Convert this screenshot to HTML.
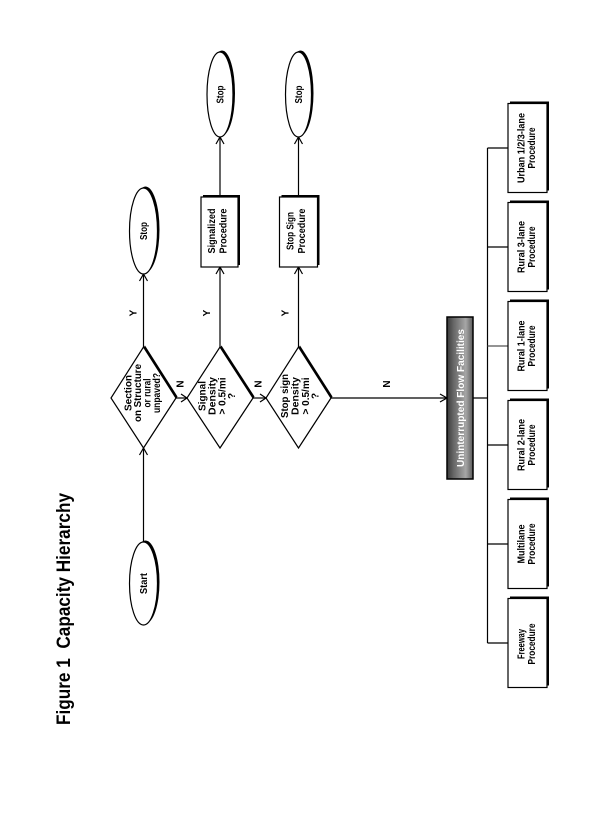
<!DOCTYPE html>
<html><head><meta charset="utf-8">
<style>
html,body{margin:0;padding:0;background:#fff;}
svg{display:block;}
text{font-family:"Liberation Sans",sans-serif;font-weight:bold;fill:#000;}
</style></head><body>
<svg width="612" height="817" viewBox="0 0 612 817" xmlns="http://www.w3.org/2000/svg">
<defs>
<linearGradient id="g" x1="0" x2="1" y1="0" y2="0">
<stop offset="0" stop-color="#3a3a3a"/>
<stop offset="0.25" stop-color="#666"/>
<stop offset="0.72" stop-color="#a6a6a6"/>
<stop offset="1" stop-color="#5a5a5a"/>
</linearGradient>
</defs>

<!-- Title -->
<text transform="translate(70,609) rotate(-90)" text-anchor="middle" font-size="19" textLength="232" lengthAdjust="spacingAndGlyphs">Figure 1&#160; Capacity Hierarchy</text>

<g stroke="#000" stroke-width="1.2" fill="none">
  <!-- Start -> D1 -->
  <line x1="143.5" y1="542" x2="143.5" y2="448"/>
  <polyline points="139.5,455 143.5,448 147.5,455"/>
  <!-- D1 -> Stop1 -->
  <line x1="143.5" y1="347" x2="143.5" y2="274"/>
  <polyline points="139.5,281 143.5,274 147.5,281"/>
  <!-- D1 -> D2 -->
  <line x1="176" y1="398" x2="187" y2="398"/>
  <polyline points="181,394 187,398 181,402"/>
  <!-- D2 -> Signalized -->
  <line x1="220" y1="347" x2="220" y2="267"/>
  <polyline points="216,274 220,267 224,274"/>
  <!-- Signalized -> Stop2 -->
  <line x1="220" y1="197" x2="220" y2="137"/>
  <polyline points="216,144 220,137 224,144"/>
  <!-- D2 -> D3 -->
  <line x1="253" y1="398" x2="266" y2="398"/>
  <polyline points="260,394 266,398 260,402"/>
  <!-- D3 -> Stop Sign -->
  <line x1="298.5" y1="347" x2="298.5" y2="267"/>
  <polyline points="294.5,274 298.5,267 302.5,274"/>
  <!-- Stop Sign -> Stop3 -->
  <line x1="298.5" y1="197" x2="298.5" y2="137"/>
  <polyline points="294.5,144 298.5,137 302.5,144"/>
  <!-- D3 -> UFF -->
  <line x1="331" y1="398" x2="447" y2="398"/>
  <polyline points="440,394 447,398 440,402"/>
  <!-- UFF -> bus -->
  <line x1="471" y1="398" x2="487.5" y2="398"/>
  <line x1="487.5" y1="148" x2="487.5" y2="643"/>
  <line x1="487.5" y1="148" x2="508" y2="148"/>
  <line x1="487.5" y1="247" x2="508" y2="247"/>
  <line x1="487.5" y1="346" x2="508" y2="346" stroke="#555"/>
  <line x1="487.5" y1="445" x2="508" y2="445"/>
  <line x1="487.5" y1="544" x2="508" y2="544"/>
  <line x1="487.5" y1="643" x2="508" y2="643"/>
</g>

<!-- Ellipses -->
<ellipse cx="145.5" cy="582" rx="14" ry="41.5" fill="#000"/>
<ellipse cx="143.5" cy="583.5" rx="14" ry="41.5" fill="#fff" stroke="#000" stroke-width="1.2"/>
<ellipse cx="145.5" cy="229.5" rx="14" ry="43" fill="#000"/>
<ellipse cx="143.5" cy="231" rx="14" ry="43" fill="#fff" stroke="#000" stroke-width="1.2"/>
<ellipse cx="222" cy="93" rx="13" ry="42.5" fill="#000"/>
<ellipse cx="220" cy="94.5" rx="13" ry="42.5" fill="#fff" stroke="#000" stroke-width="1.2"/>
<ellipse cx="300.5" cy="93" rx="13" ry="42.5" fill="#000"/>
<ellipse cx="298.5" cy="94.5" rx="13" ry="42.5" fill="#fff" stroke="#000" stroke-width="1.2"/>

<!-- Diamonds -->
<polygon points="145,345.5 177.5,396.5 145,446.5 112.5,396.5" fill="#000"/>
<polygon points="143.5,347 176,398 143.5,448 111,398" fill="#fff" stroke="#000" stroke-width="1.2"/>
<polygon points="221.5,345.5 254.5,396.5 221.5,446.5 188.5,396.5" fill="#000"/>
<polygon points="220,347 253,398 220,448 187,398" fill="#fff" stroke="#000" stroke-width="1.2"/>
<polygon points="300,345.5 332.5,396.5 300,446.5 267.5,396.5" fill="#000"/>
<polygon points="298.5,347 331,398 298.5,448 266,398" fill="#fff" stroke="#000" stroke-width="1.2"/>

<!-- Procedure boxes (upper) -->
<rect x="203" y="195" width="37" height="70" fill="#000"/>
<rect x="201" y="197" width="37" height="70" fill="#fff" stroke="#000" stroke-width="1.2"/>
<rect x="281.5" y="195" width="38" height="70" fill="#000"/>
<rect x="279.5" y="197" width="38" height="70" fill="#fff" stroke="#000" stroke-width="1.2"/>

<!-- UFF box -->
<rect x="447" y="317" width="26" height="162" fill="url(#g)" stroke="#000" stroke-width="1.5"/>
<text transform="translate(464,398) rotate(-90)" text-anchor="middle" font-size="10.5" textLength="138" lengthAdjust="spacingAndGlyphs" style="fill:#fff">Uninterrupted Flow Facilities</text>

<!-- Bottom boxes -->
<g>
  <rect x="510" y="101.5" width="39" height="89" fill="#000"/>
  <rect x="508" y="103.5" width="39" height="89" fill="#fff" stroke="#000" stroke-width="1.2"/>
  <rect x="510" y="200.5" width="39" height="89" fill="#000"/>
  <rect x="508" y="202.5" width="39" height="89" fill="#fff" stroke="#000" stroke-width="1.2"/>
  <rect x="510" y="299.5" width="39" height="89" fill="#000"/>
  <rect x="508" y="301.5" width="39" height="89" fill="#fff" stroke="#000" stroke-width="1.2"/>
  <rect x="510" y="398.5" width="39" height="89" fill="#000"/>
  <rect x="508" y="400.5" width="39" height="89" fill="#fff" stroke="#000" stroke-width="1.2"/>
  <rect x="510" y="497.5" width="39" height="89" fill="#000"/>
  <rect x="508" y="499.5" width="39" height="89" fill="#fff" stroke="#000" stroke-width="1.2"/>
  <rect x="510" y="596.5" width="39" height="89" fill="#000"/>
  <rect x="508" y="598.5" width="39" height="89" fill="#fff" stroke="#000" stroke-width="1.2"/>
</g>

<!-- Ellipse labels -->
<text transform="translate(147,583.5) rotate(-90)" text-anchor="middle" font-size="10" textLength="21" lengthAdjust="spacingAndGlyphs">Start</text>
<text transform="translate(147,231) rotate(-90)" text-anchor="middle" font-size="10" textLength="18" lengthAdjust="spacingAndGlyphs">Stop</text>
<text transform="translate(223.5,94.5) rotate(-90)" text-anchor="middle" font-size="10" textLength="18" lengthAdjust="spacingAndGlyphs">Stop</text>
<text transform="translate(302,94.5) rotate(-90)" text-anchor="middle" font-size="10" textLength="18" lengthAdjust="spacingAndGlyphs">Stop</text>

<!-- Diamond 1 -->
<text transform="translate(131.5,393) rotate(-90)" text-anchor="middle" font-size="10" textLength="36" lengthAdjust="spacingAndGlyphs">Section</text>
<text transform="translate(141,393) rotate(-90)" text-anchor="middle" font-size="10" textLength="58" lengthAdjust="spacingAndGlyphs">on Structure</text>
<text transform="translate(150.5,393) rotate(-90)" text-anchor="middle" font-size="10" textLength="29" lengthAdjust="spacingAndGlyphs">or rural</text>
<text transform="translate(160,393) rotate(-90)" text-anchor="middle" font-size="10" textLength="40" lengthAdjust="spacingAndGlyphs">unpaved?</text>

<!-- Diamond 2 -->
<text transform="translate(205.5,396) rotate(-90)" text-anchor="middle" font-size="10" textLength="30" lengthAdjust="spacingAndGlyphs">Signal</text>
<text transform="translate(215.5,396) rotate(-90)" text-anchor="middle" font-size="10" textLength="38" lengthAdjust="spacingAndGlyphs">Density</text>
<text transform="translate(225.5,396) rotate(-90)" text-anchor="middle" font-size="10" textLength="37" lengthAdjust="spacingAndGlyphs">&gt; 0.5/mi</text>
<text transform="translate(235,396) rotate(-90)" text-anchor="middle" font-size="10">?</text>

<!-- Diamond 3 -->
<text transform="translate(288,396) rotate(-90)" text-anchor="middle" font-size="10" textLength="44" lengthAdjust="spacingAndGlyphs">Stop sign</text>
<text transform="translate(298.5,396) rotate(-90)" text-anchor="middle" font-size="10" textLength="38" lengthAdjust="spacingAndGlyphs">Density</text>
<text transform="translate(309,396) rotate(-90)" text-anchor="middle" font-size="10" textLength="37" lengthAdjust="spacingAndGlyphs">&gt; 0.5/mi</text>
<text transform="translate(318.5,396) rotate(-90)" text-anchor="middle" font-size="10">?</text>

<!-- Y / N labels -->
<text transform="translate(136.5,313) rotate(-90)" text-anchor="middle" font-size="10">Y</text>
<text transform="translate(210,313) rotate(-90)" text-anchor="middle" font-size="10">Y</text>
<text transform="translate(288.5,313) rotate(-90)" text-anchor="middle" font-size="10">Y</text>
<text transform="translate(183.5,384) rotate(-90)" text-anchor="middle" font-size="10">N</text>
<text transform="translate(261.5,384) rotate(-90)" text-anchor="middle" font-size="10">N</text>
<text transform="translate(390,384) rotate(-90)" text-anchor="middle" font-size="10">N</text>

<!-- Upper procedure box labels -->
<text transform="translate(215,231) rotate(-90)" text-anchor="middle" font-size="10" textLength="45" lengthAdjust="spacingAndGlyphs">Signalized</text>
<text transform="translate(226.5,231) rotate(-90)" text-anchor="middle" font-size="10" textLength="45" lengthAdjust="spacingAndGlyphs">Procedure</text>
<text transform="translate(293.5,231) rotate(-90)" text-anchor="middle" font-size="10" textLength="38" lengthAdjust="spacingAndGlyphs">Stop Sign</text>
<text transform="translate(305,231) rotate(-90)" text-anchor="middle" font-size="10" textLength="45" lengthAdjust="spacingAndGlyphs">Procedure</text>

<!-- Bottom box labels -->
<text transform="translate(524.5,148) rotate(-90)" text-anchor="middle" font-size="10" textLength="70" lengthAdjust="spacingAndGlyphs">Urban 1/2/3-lane</text>
<text transform="translate(535,148) rotate(-90)" text-anchor="middle" font-size="10" textLength="41" lengthAdjust="spacingAndGlyphs">Procedure</text>

<text transform="translate(524.5,247) rotate(-90)" text-anchor="middle" font-size="10" textLength="52" lengthAdjust="spacingAndGlyphs">Rural 3-lane</text>
<text transform="translate(535,247) rotate(-90)" text-anchor="middle" font-size="10" textLength="41" lengthAdjust="spacingAndGlyphs">Procedure</text>

<text transform="translate(524.5,346) rotate(-90)" text-anchor="middle" font-size="10" textLength="51" lengthAdjust="spacingAndGlyphs">Rural 1-lane</text>
<text transform="translate(535,346) rotate(-90)" text-anchor="middle" font-size="10" textLength="41" lengthAdjust="spacingAndGlyphs">Procedure</text>

<text transform="translate(524.5,445) rotate(-90)" text-anchor="middle" font-size="10" textLength="52" lengthAdjust="spacingAndGlyphs">Rural 2-lane</text>
<text transform="translate(535,445) rotate(-90)" text-anchor="middle" font-size="10" textLength="41" lengthAdjust="spacingAndGlyphs">Procedure</text>

<text transform="translate(524.5,544) rotate(-90)" text-anchor="middle" font-size="10" textLength="39" lengthAdjust="spacingAndGlyphs">Multilane</text>
<text transform="translate(535,544) rotate(-90)" text-anchor="middle" font-size="10" textLength="41" lengthAdjust="spacingAndGlyphs">Procedure</text>

<text transform="translate(524.5,644) rotate(-90)" text-anchor="middle" font-size="10" textLength="30" lengthAdjust="spacingAndGlyphs">Freeway</text>
<text transform="translate(535,644) rotate(-90)" text-anchor="middle" font-size="10" textLength="41" lengthAdjust="spacingAndGlyphs">Procedure</text>

</svg>
</body></html>
